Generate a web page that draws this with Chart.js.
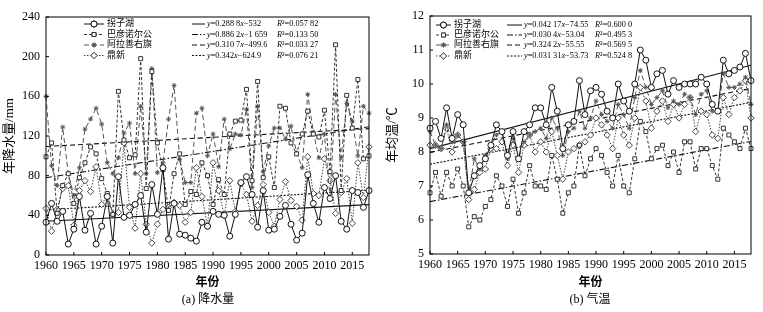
<!DOCTYPE html>
<html>
<head>
<meta charset="utf-8">
<script src="https://cdn.jsdelivr.net/npm/chart.js@4/dist/chart.umd.min.js"></script>
<style>
body { margin: 0; background: #fff; width: 763px; height: 312px; position: relative; overflow: hidden;
       font-family: "Liberation Serif", "Noto Sans CJK SC", serif; }
.panel { position: absolute; top: 0; }
.cap { position: absolute; top: 289px; font-size: 12px; text-align: center; color: #000; }
</style>
</head>
<body>
<div class="panel" style="left:0"><canvas id="chart_rain" width="382" height="290"></canvas></div>
<div class="panel" style="left:383px"><canvas id="chart_temp" width="380" height="290"></canvas></div>
<div class="cap" style="left:150px;width:116px">(a) 降水量</div>
<div class="cap" style="left:532px;width:116px">(b) 气温</div>
<script>
const years = [1960,1961,1962,1963,1964,1965,1966,1967,1968,1969,1970,1971,1972,1973,1974,1975,1976,1977,1978,1979,
  1980,1981,1982,1983,1984,1985,1986,1987,1988,1989,1990,1991,1992,1993,1994,1995,1996,1997,1998,1999,
  2000,2001,2002,2003,2004,2005,2006,2007,2008,2009,2010,2011,2012,2013,2014,2015,2016,2017,2018];
const stations = ['拐子湖', '巴彦诺尔公', '阿拉善右旗', '鼎新'];

// annual precipitation, mm
const rainGuaizihu = [33,52,34,44,11,26,59,25,42,11,29,59,12,79,38,40,51,60,23,71,
  41,88,16,52,21,20,17,14,33,29,44,41,40,19,41,73,79,61,28,65,
  25,26,39,50,31,15,22,81,52,33,68,57,80,34,26,65,63,48,65];
const rainBayan = [99,113,42,70,82,52,78,93,109,102,77,62,41,165,116,98,101,198,67,185,
  113,86,45,82,102,51,64,61,93,80,51,76,61,122,135,136,167,75,175,78,
  99,68,150,148,113,102,122,145,122,119,146,84,212,65,161,128,177,97,100];
const rainAlashan = [160,90,70,129,82,60,88,127,137,148,132,93,82,98,123,133,82,150,82,188,
  83,93,137,171,96,73,73,143,148,100,122,89,137,107,122,121,147,68,150,84,
  110,128,128,117,130,103,88,162,124,98,122,58,162,98,153,135,100,150,143];
const rainDingxin = [47,24,46,67,70,30,65,75,64,89,51,60,41,43,113,48,27,82,31,12,
  31,46,48,53,50,33,43,88,59,29,93,65,40,75,44,72,61,34,50,71,
  43,29,56,74,55,49,35,99,62,60,97,75,42,63,77,32,93,58,109];
const rainTrendEnds = [[34.0,50.8],[77.9,129.3],[109.4,127.4],[45.4,65.3]];
const rainEquations = ['y=0.288 8x−532', 'y=0.886 2x−1 659', 'y=0.310 7x−499.6', 'y=0.342x−624.9'];
const rainR2 = ['R²=0.057 82', 'R²=0.133 50', 'R²=0.033 27', 'R²=0.076 21'];

// annual mean temperature, ℃
const tempGuaizihu = [8.7,8.9,8.4,9.3,8.4,9.1,8.8,6.8,7.3,7.6,7.8,8.2,8.8,8.6,7.9,8.6,7.8,8.6,8.8,9.3,
  9.3,8.8,9.9,9.2,8.1,8.8,8.9,10.1,9.1,9.8,9.9,9.7,9.2,9.0,10.0,9.5,9.2,10.0,11.0,10.7,
  9.9,10.3,10.4,9.7,10.1,9.9,10.0,10.0,10.0,10.2,10.0,9.4,9.2,10.7,10.3,10.4,10.5,10.9,10.1];
const tempBayan = [6.8,7.4,6.7,7.4,7.0,7.5,7.0,5.8,6.1,6.0,6.4,6.6,7.3,7.0,6.4,7.2,6.2,6.8,7.6,7.0,
  7.0,6.9,7.9,7.2,6.2,6.8,7.0,8.2,7.3,7.8,8.1,7.9,7.4,7.0,7.9,7.0,6.8,7.8,8.9,8.6,
  7.8,8.1,8.2,7.6,8.0,7.4,8.3,8.3,7.5,8.1,8.1,7.6,7.2,8.7,8.5,8.3,8.1,8.7,8.1];
const tempAlashan = [8.6,8.2,8.1,8.8,8.3,8.5,8.3,6.8,7.8,7.5,7.9,8.2,8.5,8.6,7.8,8.4,7.8,8.3,8.5,8.6,
  8.7,8.4,9.0,8.7,7.9,8.6,8.7,9.2,8.7,9.0,9.5,9.1,8.9,8.7,9.4,9.1,8.7,9.6,10.4,9.9,
  9.4,9.6,9.8,9.3,9.5,9.4,9.7,9.6,9.1,9.7,9.8,9.2,9.2,10.3,9.9,9.9,10.0,10.2,9.4];
const tempDingxin = [8.2,8.2,8.1,8.7,8.0,8.5,8.3,6.6,6.9,7.4,7.5,8.1,8.1,8.3,7.6,8.2,7.4,8.2,8.5,8.0,
  8.3,8.0,8.6,7.9,7.2,8.0,8.1,8.2,8.3,8.5,9.0,8.8,8.5,8.1,9.0,8.5,8.2,9.0,9.9,9.5,
  8.7,9.2,9.5,8.9,9.4,9.0,9.4,9.6,8.6,9.2,9.1,8.5,8.4,9.6,9.1,9.6,9.8,10.1,9.0];
const tempTrendEnds = [[8.10,10.55],[6.54,8.31],[7.99,9.87],[7.64,9.46]];
const tempEquations = ['y=0.042 17x−74.55', 'y=0.030 4x−53.04', 'y=0.324 2x−55.55', 'y=0.031 31x−53.73'];
const tempR2 = ['R²=0.600 0', 'R²=0.495 3', 'R²=0.569 5', 'R²=0.524 8'];

const FONT = '"Liberation Serif", "Noto Sans CJK SC", serif';
const styles = [
  { dash: [], point: 'circle', r: 3.0, color: '#111' },
  { dash: [3, 2], point: 'rect', r: 2.8, color: '#333' },
  { dash: [5, 3], point: 'star', r: 2.4, color: '#555' },
  { dash: [1.5, 1.5], point: 'rectRot', r: 3.2, color: '#444' }
];
const trendDash = [[], [6, 2, 1.5, 2], [5, 3], [2, 1.5]];

// draw text where x, y and R are italic
function drawRich(ctx, str, x, y, size) {
  for (const ch of str) {
    ctx.font = ('xyR'.includes(ch) ? 'italic ' : '') + size + 'px ' + FONT;
    ctx.fillText(ch, x, y);
    x += ctx.measureText(ch).width;
  }
}

function makePanel(id, series, trendEnds, eqs, r2s, yOpts, lg) {
  const datasets = [];
  series.forEach((vals, i) => {
    const s = styles[i];
    datasets.push({
      label: stations[i],
      data: vals.map((v, k) => ({ x: years[k], y: v })),
      borderColor: s.color, borderWidth: 1, borderDash: s.dash,
      pointStyle: s.point, pointRadius: s.r, pointBorderWidth: 1,
      pointBorderColor: s.color, pointBackgroundColor: '#fff',
      tension: 0, clip: false
    });
  });
  trendEnds.forEach((ends, i) => {
    datasets.push({
      label: 'trend' + i,
      data: [{ x: years[0], y: ends[0] }, { x: years[years.length - 1], y: ends[1] }],
      borderColor: '#111', borderWidth: 1.1, borderDash: trendDash[i],
      pointRadius: 0, tension: 0
    });
  });

  const frame = {
    id: 'frame',
    afterDraw(chart) {
      const ctx = chart.ctx, a = chart.chartArea;
      const xs = chart.scales.x, ys = chart.scales.y;
      ctx.save();
      ctx.strokeStyle = '#000';
      ctx.lineWidth = 1;
      ctx.setLineDash([]);
      ctx.strokeRect(a.left, a.top, a.right - a.left, a.bottom - a.top);
      ctx.beginPath();
      xs.ticks.forEach(t => {
        const px = xs.getPixelForValue(t.value);
        ctx.moveTo(px, a.bottom); ctx.lineTo(px, a.bottom - 3);
      });
      ys.ticks.forEach(t => {
        const py = ys.getPixelForValue(t.value);
        ctx.moveTo(a.left, py); ctx.lineTo(a.left + 3, py);
      });
      ctx.stroke();

      // legend
      ctx.fillStyle = '#000';
      ctx.textBaseline = 'middle';
      stations.forEach((name, i) => {
        const s = styles[i], y = lg.rows[i];
        ctx.strokeStyle = s.color;
        ctx.setLineDash(s.dash);
        ctx.beginPath(); ctx.moveTo(lg.x0, y); ctx.lineTo(lg.x1, y); ctx.stroke();
        ctx.setLineDash([]);
        ctx.fillStyle = '#fff';
        Chart.helpers.drawPoint(ctx, { pointStyle: s.point, radius: s.r, borderWidth: 1 }, (lg.x0 + lg.x1) / 2, y);
        ctx.fill(); ctx.stroke();
        ctx.fillStyle = '#000';
        ctx.font = '9px ' + FONT;
        ctx.fillText(name, lg.x1 + 3, y);

        ctx.strokeStyle = '#111';
        ctx.setLineDash(trendDash[i]);
        ctx.beginPath(); ctx.moveTo(lg.e0, y); ctx.lineTo(lg.e1, y); ctx.stroke();
        ctx.setLineDash([]);
        drawRich(ctx, eqs[i], lg.e1 + 2, y, 8.3);
        drawRich(ctx, r2s[i], lg.r, y, 8.3);
      });
      ctx.restore();
    }
  };

  return new Chart(document.getElementById(id), {
    type: 'line',
    data: { datasets },
    plugins: [frame],
    options: {
      responsive: false,
      animation: false,
      layout: { padding: { top: lg.top, right: lg.right, left: 0, bottom: 0 } },
      plugins: { legend: { display: false }, tooltip: { enabled: false } },
      scales: {
        x: {
          type: 'linear', min: 1960, max: 2018,
          grid: { display: false, drawTicks: false },
          border: { display: false },
          afterFit: s => { s.height = lg.xh; },
          ticks: {
            stepSize: 5, includeBounds: false, maxRotation: 0, padding: 4,
            color: '#000', font: { family: FONT, size: 12 },
            callback: v => String(v)
          },
          title: { display: true, text: '年份', color: '#000', padding: 0,
                   font: { family: FONT, size: 12, weight: 'bold' } }
        },
        y: {
          min: yOpts.min, max: yOpts.max,
          grid: { display: false, drawTicks: false },
          border: { display: false },
          afterFit: s => { s.width = lg.yw; },
          ticks: { stepSize: yOpts.step, padding: 6, color: '#000', font: { family: FONT, size: 12 } },
          title: { display: true, text: yOpts.title, color: '#000', padding: { top: 2, bottom: 0 },
                   font: { family: FONT, size: 13 } }
        }
      }
    }
  });
}

makePanel('chart_rain', [rainGuaizihu, rainBayan, rainAlashan, rainDingxin], rainTrendEnds, rainEquations, rainR2,
  { min: 0, max: 240, step: 40, title: '年降水量/mm' },
  { top: 17, right: 13, yw: 46, xh: 35, x0: 84, x1: 104, e0: 192, e1: 205, r: 277, rows: [24, 34.5, 45, 55.5] });
makePanel('chart_temp', [tempGuaizihu, tempBayan, tempAlashan, tempDingxin], tempTrendEnds, tempEquations, tempR2,
  { min: 5, max: 12, step: 1, title: '年均温/℃' },
  { top: 16, right: 12, yw: 47, xh: 36, x0: 53, x1: 68, e0: 124, e1: 139, r: 212, rows: [25, 35, 45, 56] });
</script>
</body>
</html>
